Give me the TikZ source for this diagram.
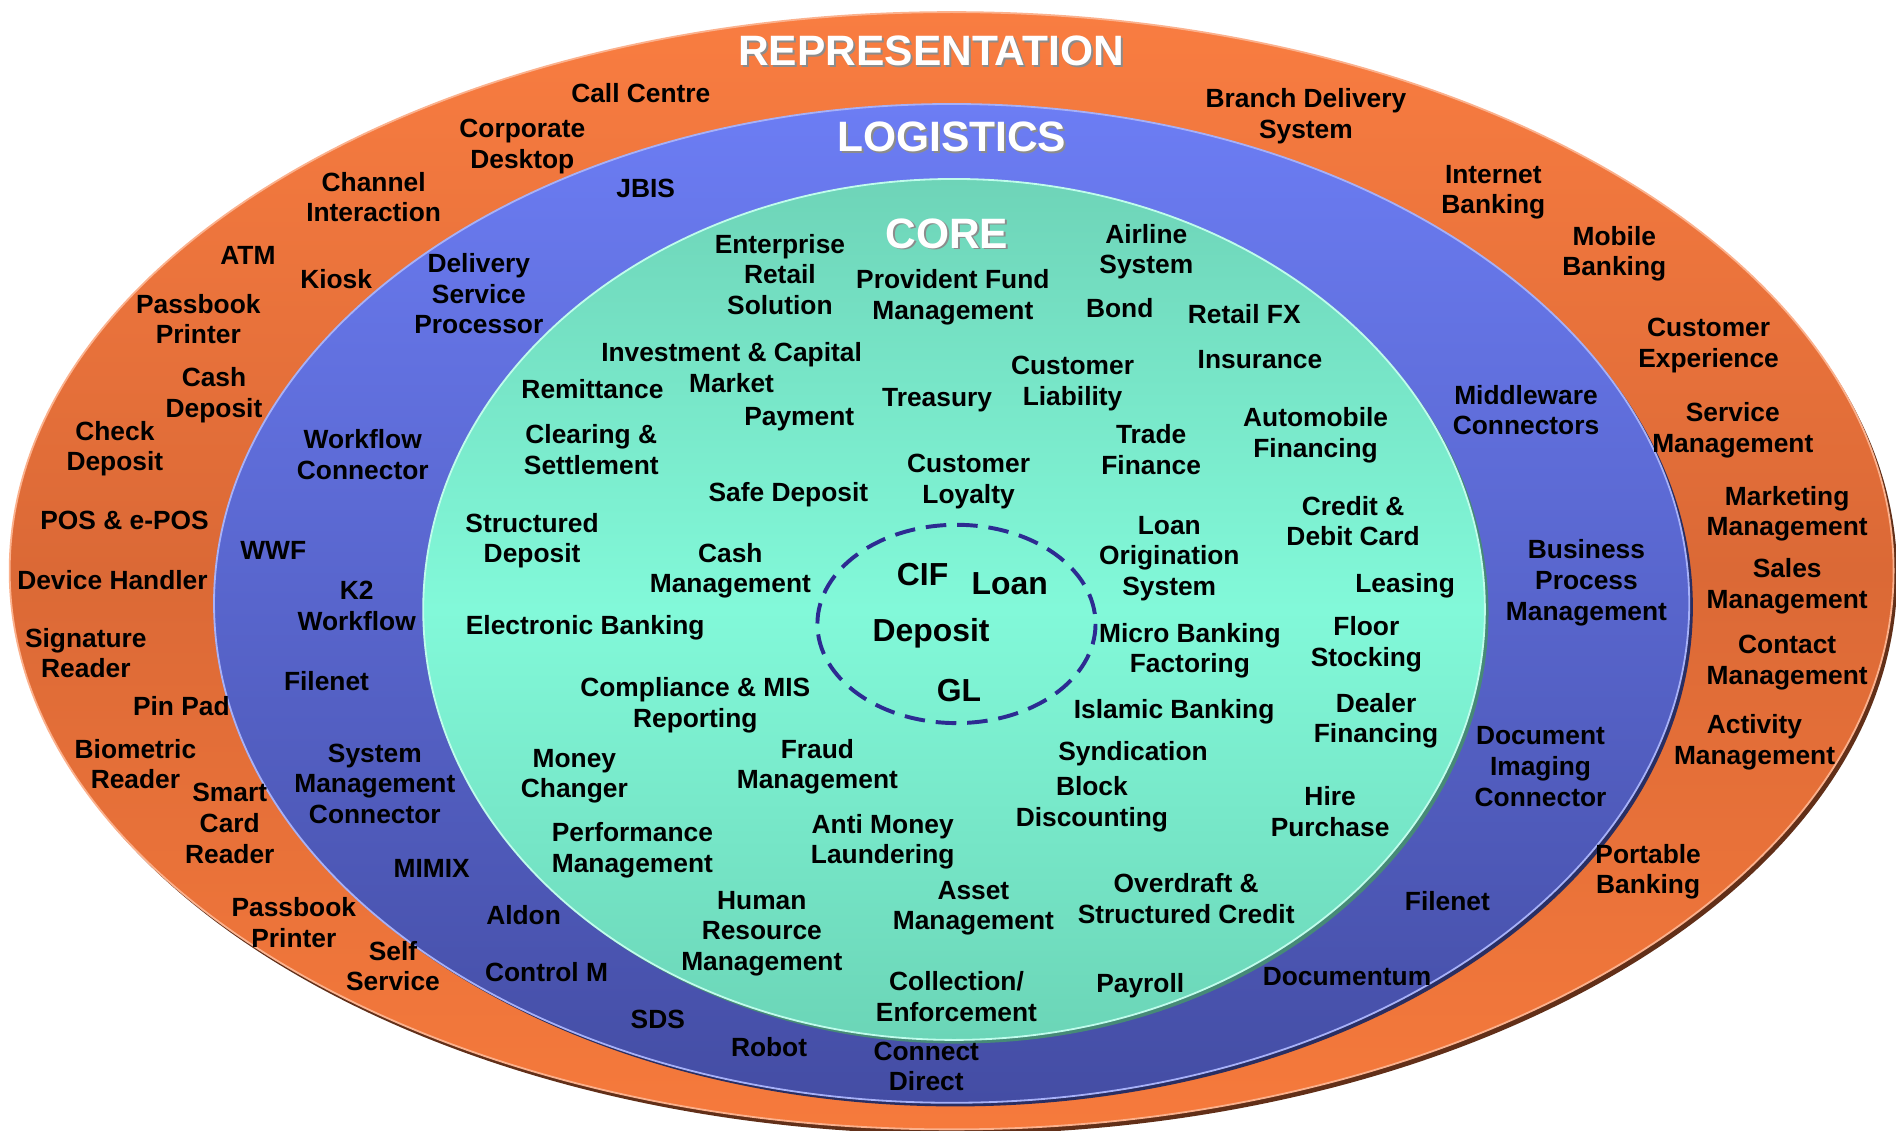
\documentclass[tikz,border=0pt]{standalone}
\usepackage{fontspec}
\setmainfont{Liberation Sans}
\usetikzlibrary{positioning}
\definecolor{reptop}{HTML}{F97D41}
\definecolor{repmid}{HTML}{DB6936}
\definecolor{repbot}{HTML}{F67A3C}
\definecolor{logtop}{HTML}{6C7DF4}
\definecolor{logbot}{HTML}{444DA4}
\definecolor{coretop}{HTML}{6ED4B8}
\definecolor{coremid}{HTML}{82F9D9}
\definecolor{corebot}{HTML}{6BD5B7}
\definecolor{dashblue}{HTML}{2D2B92}
\tikzset{item/.style={font=\bfseries\fontsize{12.4}{14.4}\selectfont, align=center, inner sep=0pt}}
\tikzset{inner item/.style={item, font=\bfseries\fontsize{15}{18}\selectfont}}
\tikzset{title/.style={font=\bfseries\fontsize{20}{24}\selectfont, text=white, inner sep=0pt}}
\tikzset{title shadow/.style={title, text=black!45}}
\newcommand{\ringtitle}[3]{%
  \node[title shadow] at ([shift={(1.6,1.6)}]#2) {#3};
  \node[title] (#1) at (#2) {#3};}

\begin{document}
\begin{tikzpicture}[x=0.2mm, y=-0.2mm]
	\useasboundingbox (0,0) rectangle (1568,935);
	
	% Rings
	%% Representation
	\fill[black!55!repmid] (790,476) ellipse [x radius=779, y radius=462];
	\shade[top color=reptop, bottom color=repbot, middle color=repmid, draw=reptop!60!white, line width=0.3mm] (787,472) ellipse [x radius=779, y radius=462];
	%% Logistics
	\fill[black!40!logbot] (790,502) ellipse [x radius=610, y radius=413];
	\shade[top color=logtop, bottom color=logbot, draw=logtop!60!white, line width=0.3mm] (787,499) ellipse [x radius=610, y radius=413];
	%% Core
	\fill[black!35!corebot] (792,507) ellipse [x radius=439, y radius=356];
	\shade[top color=coretop, bottom color=corebot, middle color=coremid, draw=coremid!50!white, line width=0.3mm] (789,504) ellipse [x radius=439, y radius=356];
	%% Dashed centre
	\draw[dashblue, line width=0.65mm, dash pattern=on 3.4mm off 1.8mm] (791,516) ellipse [x radius=115, y radius=82];
	
	% Titles
	\ringtitle{representation}{770,42}{REPRESENTATION}
	\ringtitle{logistics}{787,113}{LOGISTICS}
	\ringtitle{core}{783,193}{CORE}
	
	% Representation items
	\node[item] (callcentre) at (530,77) {Call Centre};
	\node[item] (corpdesktop) at (432,121) {Corporate\\Desktop};
	\node[item] (channel) at (309,163) {Channel\\Interaction};
	\node[item] (atm) at (205,211) {ATM};
	\node[item] (kiosk) at (278,231) {Kiosk};
	\node[item] (passbook1) at (164,264) {Passbook\\Printer};
	\node[item] (cashdep) at (177,327) {Cash\\Deposit};
	\node[item] (checkdep) at (95,371) {Check\\Deposit};
	\node[item] (pos) at (103,430) {POS \& e-POS};
	\node[item] (device) at (93,480) {Device Handler};
	\node[item] (signature) at (71,540) {Signature\\Reader};
	\node[item] (pinpad) at (150,584) {Pin Pad};
	\node[item] (biometric) at (112,632) {Biometric\\Reader};
	\node[item] (smartcard) at (190,681) {Smart\\Card\\Reader};
	\node[item] (passbook2) at (243,763) {Passbook\\Printer};
	\node[item] (selfserv) at (325,799) {Self\\Service};
	\node[item] (branch) at (1080,96) {Branch Delivery\\System};
	\node[item] (internet) at (1235,159) {Internet\\Banking};
	\node[item] (mobile) at (1335,210) {Mobile\\Banking};
	\node[item] (custexp) at (1413,286) {Customer\\Experience};
	\node[item] (servmgmt) at (1433,356) {Service\\Management};
	\node[item] (marketing) at (1478,425) {Marketing\\Management};
	\node[item] (sales) at (1478,485) {Sales\\Management};
	\node[item] (contact) at (1478,548) {Contact\\Management};
	\node[item] (activity) at (1451,614) {Activity\\Management};
	\node[item] (portable) at (1363,721) {Portable\\Banking};
	
	% Logistics items
	\node[item] (jbis) at (534,156) {JBIS};
	\node[item] (delivery) at (396,243) {Delivery\\Service\\Processor};
	\node[item] (workflow) at (300,376) {Workflow\\Connector};
	\node[item] (wwf) at (226,455) {WWF};
	\node[item] (ktwo) at (295,501) {K2\\Workflow};
	\node[item] (filenet1) at (270,563) {Filenet};
	\node[item] (sysmgmt) at (310,648) {System\\Management\\Connector};
	\node[item] (mimix) at (357,718) {MIMIX};
	\node[item] (aldon) at (433,757) {Aldon};
	\node[item] (controlm) at (452,804) {Control M};
	\node[item] (sds) at (544,843) {SDS};
	\node[item] (robot) at (636,866) {Robot};
	\node[item] (connect) at (766,882) {Connect\\Direct};
	\node[item] (documentum) at (1114,808) {Documentum};
	\node[item] (filenet2) at (1197,745) {Filenet};
	\node[item] (docimaging) at (1274,634) {Document\\Imaging\\Connector};
	\node[item] (bpm) at (1312,482) {Business\\Process\\Management};
	\node[item] (middleware) at (1262,339) {Middleware\\Connectors};
	
	% Core items
	\node[item] (enterprise) at (645,227) {Enterprise\\Retail\\Solution};
	\node[item] (provident) at (788,246) {Provident Fund\\Management};
	\node[item] (airline) at (948,208) {Airline\\System};
	\node[item] (bond) at (926,255) {Bond};
	\node[item] (retailfx) at (1029,260) {Retail FX};
	\node[item] (investment) at (605,304) {Investment \& Capital\\Market};
	\node[item] (remittance) at (490,322) {Remittance};
	\node[item] (treasury) at (775,331) {Treasury};
	\node[item] (custliab) at (887,317) {Customer\\Liability};
	\node[item] (insurance) at (1042,297) {Insurance};
	\node[item] (payment) at (661,347) {Payment};
	\node[item] (clearing) at (489,372) {Clearing \&\\Settlement};
	\node[item] (trade) at (952,372) {Trade\\Finance};
	\node[item] (automobile) at (1088,360) {Automobile\\Financing};
	\node[item] (loyalty) at (801,398) {Customer\\Loyalty};
	\node[item] (safedep) at (652,409) {Safe Deposit};
	\node[item] (credit) at (1119,431) {Credit \&\\Debit Card};
	\node[item] (structured) at (440,447) {Structured\\Deposit};
	\node[item] (cashmgmt) at (604,472) {Cash\\Management};
	\node[item] (loanorig) at (967,462) {Loan\\Origination\\System};
	\node[item] (leasing) at (1162,484) {Leasing};
	\node[item] (ebanking) at (484,519) {Electronic Banking};
	\node[item] (micro) at (984,538) {Micro Banking\\Factoring};
	\node[item] (floor) at (1130,533) {Floor\\Stocking};
	\node[item] (compliance) at (575,583) {Compliance \& MIS\\Reporting};
	\node[item] (islamic) at (971,589) {Islamic Banking};
	\node[item] (dealer) at (1138,596) {Dealer\\Financing};
	\node[item] (money) at (475,642) {Money\\Changer};
	\node[item] (fraud) at (676,634) {Fraud\\Management};
	\node[item] (syndication) at (937,623) {Syndication};
	\node[item] (block) at (903,665) {Block\\Discounting};
	\node[item] (hire) at (1100,671) {Hire\\Purchase};
	\node[item] (performance) at (523,703) {Performance\\Management};
	\node[item] (antimoney) at (730,696) {Anti Money\\Laundering};
	\node[item] (asset) at (805,751) {Asset\\Management};
	\node[item] (overdraft) at (981,743) {Overdraft \&\\Structured Credit};
	\node[item] (human) at (630,772) {Human\\Resource\\Management};
	\node[item] (collection) at (791,824) {Collection/\\Enforcement};
	\node[item] (payroll) at (943,815) {Payroll};
	
	% Inner circle
	\node[inner item] (cif) at (763,475) {CIF};
	\node[inner item] (loan) at (835,483) {Loan};
	\node[inner item] (deposit) at (770,524) {Deposit};
	\node[inner item] (gl) at (793,571) {GL};
\end{tikzpicture}
\end{document}
